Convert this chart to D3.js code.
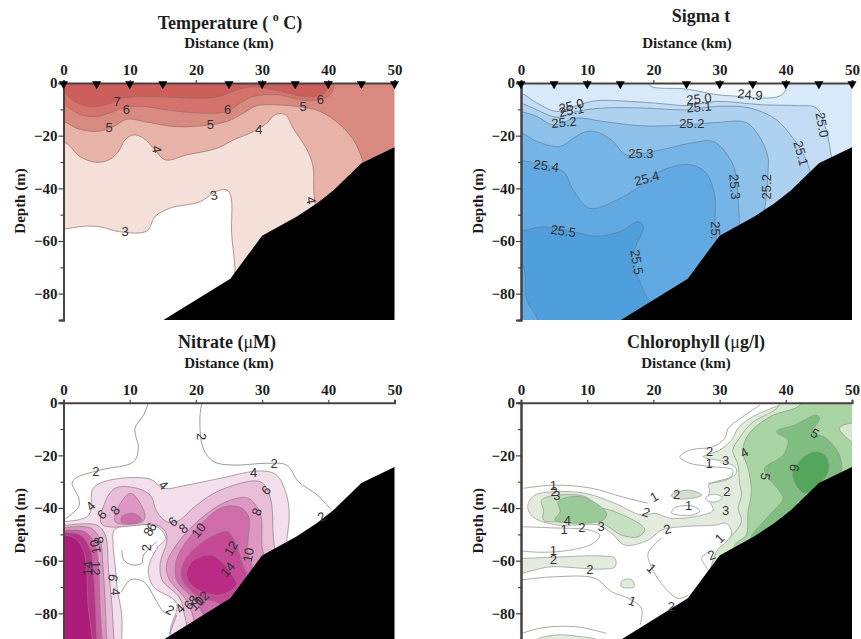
<!DOCTYPE html>
<html>
<head>
<meta charset="utf-8">
<script src="https://cdn.jsdelivr.net/npm/d3@7"></script>
<style>
    html, body { margin: 0; padding: 0; background: #fff; }
    svg { display: block; }
    text { font-family: "Liberation Serif", serif; }
</style>
</head>
<body>
<svg></svg>
<script>
// tick labels and stations
const distanceTicks = [0, 10, 20, 30, 40, 50];
const depthTicks = [0, -20, -40, -60, -80];
const depthMinorTicks = [-10, -30, -50, -70, -90];
const stations = [0, 5, 10, 15, 25, 30, 35, 40, 45, 50];

// sea floor, [km, depth m]
const seabed = [[15.1, -90], [25.2, -74.3], [30, -58], [35.2, -50.8], [38.3, -45.7], [40.8, -40.7], [45, -30.5], [50, -24.4], [55, -24], [55, -100], [15.1, -100]];

// temperature isotherms, each ring is closed outside the frame
const temp3 = [[-3, -55.5], [0, -55.5], [3, -54.4], [5.5, -54.6], [8.5, -56.5], [12.6, -56.2], [13.8, -50.8], [16, -47.6], [20.6, -45.1], [23.2, -41], [24.7, -40.7], [25.3, -43.2], [25.4, -57.2], [25.9, -70], [26, -80], [55, -80], [55, 4], [-3, 4]];
const temp4 = [[-3, -20], [0, -22.2], [1, -24.1], [2.5, -28], [5, -30.1], [7, -29], [8.3, -26], [9.3, -21.6], [10.6, -19.7], [12.1, -21], [13.6, -24.8], [15.4, -29.2], [18.6, -27.3], [23.2, -24.8], [25.7, -21.6], [28.7, -18.4], [30.7, -15.2], [32, -12], [33.5, -12], [34.7, -17.2], [36.8, -25.4], [37.7, -31.8], [37.8, -40.7], [38, -45.7], [38.5, -55], [55, -55], [55, 4], [-3, 4]];
const temp5 = [[-3, -13.5], [0, -14.6], [2, -17.2], [5, -18.4], [7.6, -16.5], [9.6, -13.7], [12.1, -14.6], [16.6, -16.5], [20.6, -16.3], [24.7, -14.6], [27.2, -11.4], [29.2, -8.6], [32.2, -8.3], [35.8, -9.1], [38.8, -10.8], [41.8, -15.9], [43.8, -21.6], [45, -28], [45.3, -30.5], [46, -40], [55, -40], [55, 4], [-3, 4]];
const temp6 = [[-3, -7], [0, -8.3], [2.5, -12], [5, -12.7], [7.6, -10.8], [9.6, -9.1], [12.1, -8.9], [15.6, -10.2], [20.6, -11.4], [24.7, -10.8], [26.7, -7.6], [28.7, -5.1], [32.2, -4.4], [35.8, -6.4], [38.3, -6.4], [40.3, -4.4], [40.9, -0.6], [41, 4], [-3, 4]];
const temp7 = [[-3, -3], [0.1, -3.9], [1.7, -7.1], [4.3, -9], [7, -7.8], [8.8, -5.8], [13.8, -5.2], [20.4, -5.8], [23.4, -5.2], [27, -2], [29, -1.4], [33, -3.3], [37, -5.2], [39.5, -3.5], [40.5, 4], [-3, 4]];
const tempLabels = [["7", 8.1, -7, 0], ["6", 9.5, -9.9, 0], ["5", 6.9, -16.8, 0], ["4", 14.1, -25.2, 80], ["6", 24.8, -9.9, 0], ["5", 22.2, -15.9, 0], ["4", 29.5, -17.8, 0], ["5", 36.2, -8.9, 0], ["6", 38.8, -6.1, 0], ["4", 37.4, -44.5, 80], ["3", 22.7, -42.6, -15], ["3", 9.3, -56.5, 0]];

// sigma t isopycnals
const sigma249 = [[19.5, 2], [19.5, -1], [25, -2.3], [29.5, -4.4], [32.5, -5], [36.6, -5.7], [39, -5], [40, -2.5], [40, 2]];
const sigma250 = [[-3, -2], [0, -3.8], [2.4, -7.6], [5.4, -10.8], [8.4, -8.6], [11.4, -6.7], [16.4, -7], [21.5, -7.9], [25, -8.6], [29.5, -7], [36.6, -8.3], [41.6, -8.6], [44.6, -9.5], [46.1, -17.8], [46.9, -28], [47.5, -36], [47, -95], [-3, -95]];
const sigma251 = [[-3, -6], [0, -7.6], [2.4, -10.2], [5.4, -13], [8.4, -10.8], [12.4, -9.5], [18.5, -9.5], [25, -10.2], [29.5, -8.9], [34.6, -9.5], [38.6, -14], [41.1, -21], [42.6, -26.7], [43.6, -33], [44, -40], [44, -95], [-3, -95]];
const sigma252 = [[-3, -9.5], [0, -10.8], [2.4, -12.7], [4.9, -15.9], [8.4, -13.3], [12.4, -14.6], [18.5, -16.3], [25, -15.9], [29.5, -15], [34, -15], [36, -20.3], [37.3, -28], [37.3, -34.3], [37, -44.5], [36.8, -48.3], [36.5, -60], [36, -95], [-3, -95]];
const sigma253 = [[-3, -17], [0, -18.8], [2.4, -22.2], [5.9, -24.1], [7.9, -21], [9.9, -18.4], [11.9, -19], [13.9, -22.2], [15.9, -27.3], [20, -26], [25.5, -22.9], [29, -22.2], [31, -26.7], [32.3, -33], [32.8, -44.5], [33, -53.4], [33, -65], [33, -95], [-3, -95]];
const sigma254 = [[-3, -29], [0, -29.5], [2.4, -30.5], [6.4, -33.7], [7.9, -40.7], [10.4, -47.6], [14.4, -44.5], [17.5, -40], [21.5, -33], [25.5, -31], [28, -34.3], [29.3, -43.2], [29.3, -52], [29.5, -58.5], [29.5, -95], [-3, -95]];
const sigma255 = [[-3, -56.5], [0, -56.2], [3.4, -54.6], [7.9, -56.5], [11.4, -58.2], [14.9, -56.5], [17.7, -52.7], [18.5, -54.6], [17.5, -61], [16.7, -67.3], [17.7, -73.7], [19, -81.3], [19.5, -83.2], [20, -95], [3, -95], [2.4, -89], [0.9, -82.6], [0.4, -70]];
const sigmaLabels = [["25.0", 7.6, -8.6, -15], ["25.1", 7.6, -10.4, -10], ["25.2", 6.5, -14.9, -5], ["25.0", 26.9, -6, -5], ["25.1", 26.9, -9.1, -5], ["25.2", 25.8, -15.2, 0], ["24.9", 34.6, -4.4, 5], ["25.0", 45.5, -15.9, 80], ["25.1", 42.3, -26.7, 75], ["25.3", 18.1, -26.9, 0], ["25.4", 3.8, -31.4, 8], ["25.4", 19, -36.2, -15], ["25.3", 32.3, -39.4, 85], ["25.2", 37.1, -39.4, -90], ["25.5", 6.4, -56.2, 8], ["25.", 29.4, -55.9, 90], ["25.5", 17.5, -68, 80]];

// nitrate
const nitrate4 = [[-3, -45.2], [0, -45.2], [3.8, -42.7], [4.5, -32.5], [7, -29.4], [13.1, -29], [15.1, -32.5], [18.6, -31.3], [23.7, -28.7], [29.7, -25.9], [32.2, -27.5], [33.7, -35.1], [34.1, -42.7], [33.7, -52.8], [33, -70], [17, -95], [16.1, -87], [17.1, -76.2], [13.6, -69.9], [12.8, -63.5], [14.1, -55.3], [15.4, -51.5], [14.1, -47.1], [7.8, -48], [7.5, -54], [7.8, -61.6], [8.1, -70.5], [8.8, -80.6], [8.8, -90.1], [8.8, -95], [-3, -95]];
const nitrate6 = [[5.8, -46.2], [6.3, -37.6], [7.8, -32.5], [10.6, -32.2], [13.1, -35.1], [14.1, -41.4], [15.6, -45.2], [17.1, -45.2], [20.1, -38.9], [23.7, -33.2], [29.7, -30], [31.2, -35.7], [31.7, -50.9], [32, -59], [32, -75], [20, -95], [18.4, -82], [17.6, -74.3], [14.9, -67.3], [14.6, -61], [15.6, -52.8], [15.4, -49], [14.1, -46.5], [13.1, -46.2]];
const nitrate6Left = [[-3, -46.5], [0, -46.5], [5, -46.5], [6.3, -50.2], [6.8, -63.5], [7.3, -76.2], [7.6, -88.9], [7.8, -95], [-3, -95], [-3, -70]];
const nitrate8 = [[15.6, -61], [17.6, -52.2], [21.7, -42], [25.2, -37], [27.9, -36.3], [29.7, -42], [30, -54.7], [31, -70], [21, -95], [19.5, -80.6], [18.4, -74.5], [15.9, -66.7]];
const nitrate8Lobe = [[7.8, -45.2], [8.6, -38.2], [10.1, -34.4], [11.3, -37], [12.3, -43.3], [11.8, -45.4]];
const nitrate8Left = [[-3, -47.3], [0, -47.3], [4.2, -47.7], [5.5, -52.2], [6, -63.5], [6.3, -76.2], [6.5, -88.9], [6.7, -95], [-3, -95], [-3, -70]];
const nitrate10 = [[16.9, -62.3], [17.3, -58], [19.1, -50.9], [23.7, -40.1], [26.4, -39.5], [27.9, -42.7], [27.9, -57.8], [30, -72], [22, -95], [21, -80], [19.6, -74.5], [17.1, -67.5]];
const nitrate10Lobe = [[8.8, -43.3], [10.6, -42], [11.8, -44.6], [10.6, -45.8], [8.8, -45.4]];
const nitrate10Left = [[-3, -48.4], [0, -48.4], [3.2, -49], [4.8, -54], [5.3, -63.5], [5.5, -76.2], [5.8, -88.9], [6, -95], [-3, -95], [-3, -70]];
const nitrate12 = [[17.9, -62.3], [20.1, -54.7], [24.7, -49], [25.9, -52.8], [27.4, -63.5], [30, -75], [24, -92], [23.7, -76.8], [20.6, -74], [18, -67.5]];
const nitrate12Left = [[-3, -49.4], [0, -49.4], [2.5, -50.2], [4, -55.3], [4.5, -63.5], [4.8, -76.2], [5, -88.9], [5.2, -95], [-3, -95], [-3, -70]];
const nitrate14 = [[18.6, -64.8], [19.4, -60.4], [22.2, -57.8], [24.2, -61], [25.9, -67.3], [26.2, -69.2], [23.7, -73], [20.4, -71.1], [18.9, -68]];
const nitrate14Left = [[-3, -50.2], [0, -50.2], [1.7, -51.5], [3, -56], [3.5, -63.5], [3.7, -76.2], [4.3, -88.9], [4.5, -95], [-3, -95], [-3, -70]];
// open isolines with no fill
const nitrateLines = [
    [[12.8, 0], [12.1, -4.7], [10.8, -9.7], [11.3, -17.3], [10.6, -22.4], [5.5, -25.6], [1.8, -28.7], [1.3, -30.6], [2.3, -36.3], [2.3, -39.5], [0, -44.6]],
    [[20.9, 0], [20.6, -6], [21.1, -17.3], [22.7, -22.4], [25.7, -23.7], [30.7, -23], [33.7, -23.7], [35.5, -30], [38.3, -35], [40.5, -40.8]],
    [[8.8, -56], [9.1, -59.7], [10.3, -61.6], [11.8, -61], [12.1, -57.8], [14.1, -52.8]],
    [[8.8, -71.8], [10.1, -67.3], [12.1, -68], [14.1, -75.6], [15.1, -79.4], [16.1, -80.6]],
    [[17.1, -80.6], [16, -88]]
];
const nitrateLabels = [["2", 20.9, -12.9, 90], ["2", 31.8, -23, 0], ["2", 4.9, -26.2, 0], ["4", 28.7, -26.6, 0], ["4", 15.1, -31.3, 45], ["6", 30.6, -33.2, -45], ["8", 29.2, -41.4, -70], ["4", 4.1, -39.2, -45], ["6", 5.8, -42.4, -45], ["8", 7.8, -40.8, -45], ["6", 16.5, -45.2, -40], ["8", 18.1, -47.7, -40], ["10", 20.4, -48.4, -50], ["12", 25.3, -55.3, -60], ["10", 27.9, -57.8, -80], ["14", 24.8, -63.3, -50], ["2", 12.6, -55, -90], ["6", 13.3, -47.1, -60], ["8", 12.8, -49, -60], ["8", 5.3, -52.2, -100], ["10", 4.8, -54.7, -100], ["14", 3.6, -62.9, -90], ["12", 4.8, -62.9, 90], ["6", 7.5, -66.5, 100], ["4", 7.8, -71.8, 90], ["2", 16.1, -78.7, 30], ["4", 17.6, -78.1, -45], ["6", 18.9, -76.8, -45], ["8", 19.6, -74.9, -45], ["10", 20.1, -76.2, -45], ["12", 20.9, -74.3, -45], ["2", 39, -43.3, -30]];

// chlorophyll
const chl2 = [[1.1, -38.2], [2.1, -35.1], [5.1, -33.8], [9.7, -34.4], [14.2, -38.2], [18.2, -42.7], [20.2, -42], [22.7, -43.9], [27.3, -42.7], [29, -40.8], [28.3, -36.3], [28.5, -33.2], [28.3, -31.3], [32.3, -27.5], [32.5, -24.9], [30.5, -22.4], [27.5, -20.5], [30, -18], [31.8, -14.2], [32.8, -9.7], [34.6, -5.9], [39.1, -0.9], [41.6, 1], [51.2, 1], [51.2, -30], [36.6, -59.1], [30, -57.8], [31.3, -52.8], [31.8, -49], [31, -45.8], [29.3, -46.5], [24.2, -47.1], [21.2, -48.4], [19.2, -52.2], [15.7, -54.1], [13.7, -49.6], [11.7, -46.5], [5.6, -46.5], [2.1, -43.9], [1.1, -40.8]];
const chl2Strip = [[-3, -59], [0.1, -59.1], [4.6, -58.7], [12.2, -58.2], [14.2, -59.1], [14.2, -62.3], [12.2, -63.2], [4.6, -62.3], [2.1, -63.5], [0.1, -64.8], [-3, -65]];
const chl2Patch = [[15.2, -67.7], [16.7, -67.1], [17.1, -69.9], [15.2, -69.9]];
const chl2Oval = [[22.7, -35.1], [25.3, -33.2], [27.3, -35.1], [25.8, -36.3], [23.2, -36.3]];
const chl2Floor = [[2.4, -90.1], [5.4, -88.2], [8.9, -88.8], [11.4, -90.1], [11.4, -92], [2.4, -92]];
const chl1Pocket = [[27.9, -36], [29.2, -34.8], [30.4, -36], [29.5, -37.6], [28.1, -37.2]];
const chl3 = [[38.6, -2.2], [34.8, -7.8], [33, -13.5], [32, -18], [32.8, -23.7], [33, -30], [33.3, -35], [32.8, -40.1], [33.3, -45.2], [31, -52.8], [29.5, -56.6], [29, -70], [55, -70], [55, 3], [40, 3]];
const chl3Blob = [[3.1, -37], [5.6, -35.1], [9.7, -35.7], [11.7, -39.5], [14.2, -41.4], [18.2, -46.5], [18.7, -48.4], [17.7, -50.9], [15.2, -50.3], [13.2, -47.1], [11.7, -45.2], [5.6, -45.2], [3.4, -44.6], [3.4, -40.8]];
const chl3Patch = [[48.1, -9.7], [49.9, -7.8], [51.1, -8.5], [51.1, -16], [49.9, -14.8]];
const chl4 = [[42.1, -1.1], [37.6, -5.3], [34.3, -12.3], [33.5, -18.6], [34.3, -24.9], [34.8, -33.8], [34.3, -41.4], [34, -50.3], [32.3, -54], [32, -70], [55, -70], [55, 3], [43, 3]];
const chl4Blob = [[5.6, -37.6], [7.6, -35.7], [9.9, -36.3], [12.9, -42], [12.4, -44.6], [5.1, -44.6], [5.9, -41.4]];
const chl5 = [[38.6, -11], [41.3, -8.5], [44.6, -4.7], [45.1, -5.9], [44.1, -11], [46.1, -13.5], [48.1, -19.9], [48.4, -27.5], [47.7, -31.3], [39.1, -52.8], [34.8, -51.5], [37.1, -43.9], [39.6, -36.3], [39.1, -33.8], [37.1, -27.5], [36.8, -24.9], [39.6, -19.9], [40.3, -14.2]];
const chl6 = [[41.1, -26.2], [43.1, -19.9], [44.6, -18.6], [46.1, -20.5], [46.4, -26.2], [42.9, -34.4], [41.3, -30]];
const chlLines = [
    [[0.4, -32.5], [5.1, -31.3], [10.7, -32.5], [15.2, -35.7], [19.2, -38.2]],
    [[22.7, -41.8], [23.2, -39.9], [25.8, -39.2], [27, -41.1], [25.8, -42.7], [23.2, -42.4], [22.7, -41.8]],
    [[36.1, -0.9], [33.5, -5.3], [31.3, -9.7], [30.8, -13.5], [29, -16.7], [25.5, -18], [24, -20.5], [25.5, -23], [29, -24.3], [32, -25.6], [31.5, -28.7], [28.3, -30.6]],
    [[0.1, -47.1], [4.4, -47.5], [10.4, -48.4], [11.9, -50.3], [10.9, -53.4], [7.4, -56], [2.9, -56.8], [0.1, -56.3]],
    [[21.2, -51.5], [19.2, -57.2], [19.7, -62.3], [21.2, -68.6], [23.7, -74.3], [25.3, -73]],
    [[0.1, -67.3], [5.1, -66.1], [11.2, -66.7], [13.7, -71.8], [16.2, -74.3], [18.2, -78.1], [18, -84.4]],
    [[28.3, -56.6], [27.3, -59.1], [28.3, -63.5]],
    [[0.1, -87.6], [3.4, -85.4], [8.4, -85.1], [12.9, -87.6]]
];
const chlLabels = [["1", 4.9, -31.3, 0], ["2", 5, -33.8, 0], ["3", 5.4, -35.3, 0], ["4", 7, -44.6, 0], ["1", 6.5, -48, 0], ["2", 9.2, -47.3, 0], ["3", 12.1, -46.8, 0], ["1", 4.9, -56, 0], ["2", 4.9, -59.4, 0], ["2", 10.4, -63.2, 0], ["1", 20.1, -35.7, -30], ["2", 18.9, -41.6, 20], ["2", 22.1, -48, -15], ["2", 23.5, -34.7, 0], ["1", 25.3, -38.9, 0], ["2", 31.1, -33.8, 0], ["3", 30.9, -40.8, 0], ["1", 30, -51.5, -45], ["2", 28.8, -57.8, -20], ["2", 28.5, -18.4, 0], ["1", 28.4, -23, 0], ["3", 30.9, -22, 0], ["4", 33.7, -18.9, -30], ["5", 36.9, -28.1, 100], ["6", 41.3, -24.7, 100], ["5", 44.4, -11.6, 30], ["1", 19.7, -62.9, 45], ["1", 16.8, -75.3, 20], ["2", 22.7, -77.5, 0]];

const panels = [
    {
        left: 63.5, top: 83, stations: true, lineColor: "#9a6a64",
        base: "#ffffff",
        rings: [[temp3, "#f4dfd9"], [temp4, "#e7b3a8"], [temp5, "#d98a80"], [temp6, "#d6726c"], [temp7, "#cc5e5b"]],
        lines: [], labels: tempLabels,
        title: [["Temperature ( "], ["o", "super"], [" C)"]], titleX: 230, titleY: 29,
        distX: 229, distY: 48, depthX: 20
    },
    {
        left: 521, top: 83, stations: true, lineColor: "#5f7f99",
        base: "#d8e9f9",
        rings: [[sigma249, "#f4f9fe"], [sigma250, "#c3dcf4"], [sigma251, "#aed1f0"], [sigma252, "#8dc1ea"], [sigma253, "#74b4e6"], [sigma254, "#61a9e2"], [sigma255, "#509fdd"]],
        lines: [], labels: sigmaLabels,
        title: [["Sigma t"]], titleX: 701, titleY: 22,
        distX: 687, distY: 48, depthX: 478
    },
    {
        left: 63.5, top: 402.7, stations: false, lineColor: "#8a7a84",
        base: "#ffffff",
        rings: [[nitrate4, "#f3dfec"], [nitrate6, "#e9bcd8"], [nitrate6Left, "#e9bcd8"], [nitrate8, "#de96c2"], [nitrate8Lobe, "#de96c2"], [nitrate8Left, "#de96c2"], [nitrate10, "#cf6ca9"], [nitrate10Lobe, "#cf6ca9"], [nitrate10Left, "#cc5fa3"], [nitrate12, "#c64a96"], [nitrate12Left, "#b9338a"], [nitrate14, "#bb2a85"], [nitrate14Left, "#ae1c7a"]],
        lines: nitrateLines, labels: nitrateLabels,
        title: [["Nitrate ("], ["\u03bc", "plain"], ["M)"]], titleX: 227, titleY: 348,
        distX: 229, distY: 368, depthX: 20
    },
    {
        left: 521, top: 402.7, stations: false, lineColor: "#8f978c",
        base: "#ffffff",
        rings: [[chl2, "#e2ebdd"], [chl2Strip, "#e2ebdd"], [chl2Patch, "#e2ebdd"], [chl2Oval, "#d5dfcf"], [chl2Floor, "#e2ebdd"], [chl1Pocket, "#ffffff"], [chl3, "#d3e8cd"], [chl3Blob, "#c6dfc0"], [chl4, "#a8d3a2"], [chl4Blob, "#99cb98"], [chl3Patch, "#d3e8cd"], [chl5, "#7fbe80"], [chl6, "#52a65c"]],
        lines: chlLines, labels: chlLabels,
        title: [["Chlorophyll ("], ["\u03bc", "plain"], ["g/l)"]], titleX: 696, titleY: 348,
        distX: 686, distY: 368, depthX: 478
    }
];

const plotWidth = 331;
const plotHeight = 237;

const svg = d3.select("svg").attr("width", 861).attr("height", 639);

// the scan is a little soft, so the colour bands are too
svg.append("filter")
    .attr("id", "soft")
    .append("feGaussianBlur")
    .attr("stdDeviation", 0.5);

const drawPanel = (panel, index) => {
    const xScale = d3.scaleLinear().domain([0, 50]).range([0, plotWidth]);
    const yScale = d3.scaleLinear().domain([0, -90]).range([0, plotHeight]);

    const ring = d3.line()
        .x((d) => xScale(d[0]))
        .y((d) => yScale(d[1]))
        .curve(d3.curveCatmullRomClosed);
    const isoline = d3.line()
        .x((d) => xScale(d[0]))
        .y((d) => yScale(d[1]))
        .curve(d3.curveCatmullRom);
    const floorLine = d3.line()
        .x((d) => xScale(d[0]))
        .y((d) => yScale(d[1]));

    const g = svg.append("g").attr("transform", `translate(${panel.left}, ${panel.top})`);

    svg.append("clipPath")
        .attr("id", "clip" + index)
        .append("rect")
        .attr("width", plotWidth)
        .attr("height", plotHeight);

    const plot = g.append("g").attr("clip-path", `url(#clip${index})`);
    const bands = plot.append("g").attr("filter", "url(#soft)");

    bands.append("rect")
        .attr("width", plotWidth)
        .attr("height", plotHeight)
        .attr("fill", panel.base);

    bands.selectAll(".band")
        .data(panel.rings)
        .enter()
        .append("path")
        .attr("class", "band")
        .attr("d", (d) => ring(d[0]))
        .attr("fill", (d) => d[1])
        .attr("stroke", panel.lineColor)
        .attr("stroke-width", 0.7);

    bands.selectAll(".isoline")
        .data(panel.lines)
        .enter()
        .append("path")
        .attr("class", "isoline")
        .attr("d", isoline)
        .attr("fill", "none")
        .attr("stroke", panel.lineColor)
        .attr("stroke-width", 0.8);

    plot.append("path")
        .attr("d", floorLine(seabed) + "Z")
        .attr("fill", "#000");

    plot.selectAll(".contour-label")
        .data(panel.labels)
        .enter()
        .append("text")
        .attr("class", "contour-label")
        .attr("transform", (d) => `translate(${xScale(d[1])}, ${yScale(d[2])}) rotate(${d[3]})`)
        .attr("text-anchor", "middle")
        .attr("dy", "0.35em")
        .attr("fill", "#333")
        .style("font-family", '"Liberation Sans", sans-serif')
        .style("font-size", "13px")
        .text((d) => d[0]);

    // axes
    const xAxis = d3.axisTop(xScale).tickValues(distanceTicks).tickSize(3).tickPadding(5);
    const yAxis = d3.axisLeft(yScale).tickValues(depthTicks).tickSize(5).tickPadding(1);
    const yMinor = d3.axisLeft(yScale).tickValues(depthMinorTicks).tickSize(3).tickFormat("");

    const styleAxis = (sel) => {
        sel.selectAll("path").attr("stroke", "#4a4040").attr("stroke-width", 2);
        sel.selectAll("line").attr("stroke", "#4a4040").attr("stroke-width", 1.2);
        sel.selectAll("text")
            .attr("fill", "#1c1c1c")
            .style("font-family", '"Liberation Serif", serif')
            .style("font-weight", "bold")
            .style("font-size", "15px");
    };

    g.append("g").call(yMinor).call(styleAxis);
    g.append("g").call(yAxis).call(styleAxis);
    g.append("g").call(xAxis).call(styleAxis);

    if (panel.stations) {
        g.selectAll(".station")
            .data(stations)
            .enter()
            .append("path")
            .attr("class", "station")
            .attr("d", d3.symbol().type(d3.symbolTriangle).size(36))
            .attr("transform", (d) => `translate(${xScale(d)}, 1) rotate(180)`)
            .attr("fill", "#000");
    }

    // titles
    const title = svg.append("text")
        .attr("x", panel.titleX)
        .attr("y", panel.titleY)
        .attr("text-anchor", "middle")
        .attr("fill", "#1c1c1c")
        .style("font-weight", "bold")
        .style("font-size", "18px");

    title.selectAll("tspan")
        .data(panel.title)
        .enter()
        .append("tspan")
        .attr("dy", (d, i) => (d[1] === "super" ? -8 : i > 0 && panel.title[i - 1][1] === "super" ? 8 : 0))
        .style("font-size", (d) => (d[1] === "super" ? "12px" : null))
        .style("font-weight", (d) => (d[1] === "plain" ? "normal" : null))
        .attr("xml:space", "preserve")
        .text((d) => d[0]);

    svg.append("text")
        .attr("x", panel.distX)
        .attr("y", panel.distY)
        .attr("text-anchor", "middle")
        .attr("fill", "#1c1c1c")
        .style("font-weight", "bold")
        .style("font-size", "15px")
        .text("Distance (km)");

    svg.append("text")
        .attr("transform", `translate(${panel.depthX}, ${panel.top + 118}) rotate(-90)`)
        .attr("text-anchor", "middle")
        .attr("dy", "0.35em")
        .attr("fill", "#1c1c1c")
        .style("font-weight", "bold")
        .style("font-size", "15px")
        .text("Depth (m)");
};

panels.forEach(drawPanel);
</script>
</body>
</html>
